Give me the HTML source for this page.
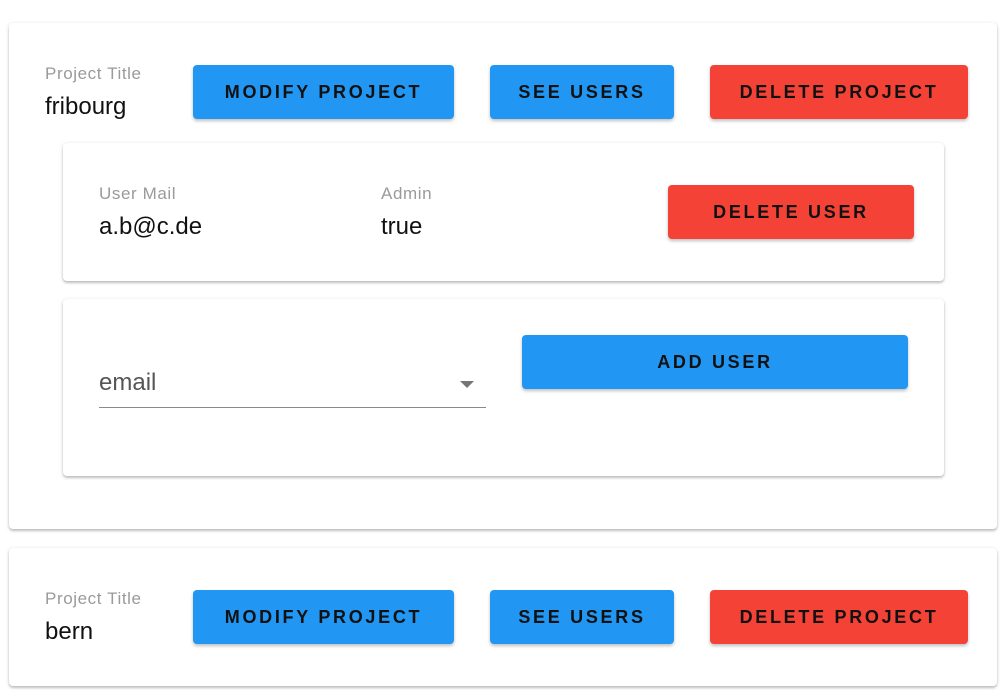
<!DOCTYPE html>
<html><head><meta charset="utf-8"><style>
body{margin:0;width:1006px;height:696px;background:#fff;font-family:"Liberation Sans",Arial,sans-serif;position:relative;overflow:hidden}
.card{position:absolute;background:#fff;border-radius:4px;box-shadow:0 2px 2px rgba(0,0,0,.18),0 1px 5px rgba(0,0,0,.12),0 0 1px rgba(0,0,0,.06)}
.btn{position:absolute;height:54px;border-radius:4px;display:flex;align-items:center;justify-content:center;font-weight:bold;font-size:18px;letter-spacing:2.7px;color:#111;box-shadow:0 2px 3px rgba(0,0,0,.25)}
.b{background:#2196F3}.r{background:#F44336}
.lbl{position:absolute;font-size:17px;letter-spacing:0.6px;color:#9a9a9a}
.val{position:absolute;font-size:24px;color:#111}
</style></head><body>
<div class="card" style="left:9px;top:23px;width:988px;height:506px"></div>
<div class="lbl" style="left:45px;top:64px">Project Title</div>
<div class="val" style="left:45px;top:93px">fribourg</div>
<div class="btn b" style="left:193px;top:65px;width:261px">MODIFY PROJECT</div>
<div class="btn b" style="left:490px;top:65px;width:184px">SEE USERS</div>
<div class="btn r" style="left:710px;top:65px;width:258px">DELETE PROJECT</div>

<div class="card" style="left:63px;top:143px;width:881px;height:138px"></div>
<div class="lbl" style="left:99px;top:184px">User Mail</div>
<div class="val" style="left:99px;top:213px">a.b@c.de</div>
<div class="lbl" style="left:381px;top:184px">Admin</div>
<div class="val" style="left:381px;top:213px">true</div>
<div class="btn r" style="left:668px;top:185px;width:246px">DELETE USER</div>

<div class="card" style="left:63px;top:299px;width:881px;height:177px"></div>
<div class="val" style="left:99px;top:369px;color:#555">email</div>
<div style="position:absolute;left:460px;top:381px;width:0;height:0;border-left:7px solid transparent;border-right:7px solid transparent;border-top:7px solid #757575"></div>
<div style="position:absolute;left:99px;top:407px;width:387px;height:1px;background:#8a8a8a"></div>
<div class="btn b" style="left:522px;top:335px;width:386px">ADD USER</div>

<div class="card" style="left:9px;top:548px;width:988px;height:138px"></div>
<div class="lbl" style="left:45px;top:589px">Project Title</div>
<div class="val" style="left:45px;top:618px">bern</div>
<div class="btn b" style="left:193px;top:590px;width:261px">MODIFY PROJECT</div>
<div class="btn b" style="left:490px;top:590px;width:184px">SEE USERS</div>
<div class="btn r" style="left:710px;top:590px;width:258px">DELETE PROJECT</div>
</body></html>
